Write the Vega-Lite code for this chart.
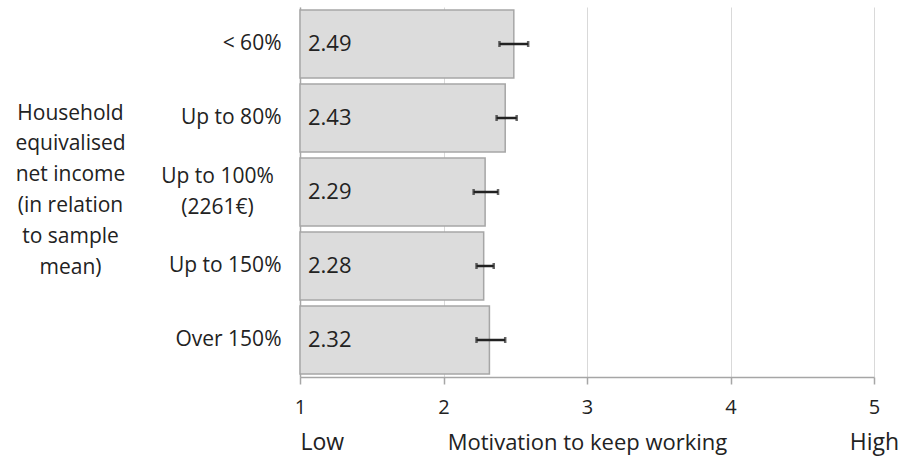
{
  "$schema": "https://vega.github.io/schema/vega-lite/v6.json",
  "width": 574,
  "height": 370,
  "autosize": {"type": "none"},
  "padding": {"left": 300, "top": 7, "right": 35, "bottom": 83},
  "config": {
    "font": "Open Sans",
    "view": {"stroke": null},
    "axis": {"titleFontWeight": "normal", "labelColor": "#222222", "titleColor": "#222222"}
  },
  "data": {
    "values": [
      {"cat": "< 60%", "mean": 2.49, "low": 2.39, "high": 2.59},
      {"cat": "Up to 80%", "mean": 2.43, "low": 2.37, "high": 2.51},
      {"cat": "Up to 100% (2261€)", "mean": 2.29, "low": 2.21, "high": 2.38},
      {"cat": "Up to 150%", "mean": 2.28, "low": 2.23, "high": 2.35},
      {"cat": "Over 150%", "mean": 2.32, "low": 2.23, "high": 2.43}
    ]
  },
  "encoding": {
    "y": {
      "field": "cat",
      "type": "nominal",
      "sort": null,
      "scale": {"paddingInner": 0.08, "paddingOuter": 0.04},
      "axis": {
        "domain": true,
        "domainColor": "#a6a6a6",
        "domainWidth": 1.5,
        "ticks": false,
        "grid": false,
        "labelPadding": {"expr": "datum.value == 'Up to 100% (2261€)' ? 83 : 19"},
        "labelAlign": {"expr": "datum.value == 'Up to 100% (2261€)' ? 'center' : 'right'"},
        "labelFontSize": 21,
        "labelLineHeight": 31,
        "labelOffset": {"expr": "datum.value == 'Up to 100% (2261€)' ? -15 : 0"},
        "labelExpr": "datum.value == 'Up to 100% (2261€)' ? ['Up to 100%', '(2261€)'] : datum.label",
        "title": ["Household", "equivalised", "net income", "(in relation", "to sample", "mean)"],
        "titleAngle": 0,
        "titleAlign": "center",
        "titleBaseline": "middle",
        "titleX": -230,
        "titleY": 106,
        "titleFontSize": 21,
        "titleLineHeight": 30.8
      }
    }
  },
  "layer": [
    {
      "mark": {"type": "bar", "fill": "#dcdcdc", "stroke": "#a6a6a6", "strokeWidth": 1.5},
      "encoding": {
        "x": {
          "field": "mean",
          "type": "quantitative",
          "scale": {"domain": [1, 5], "zero": false, "nice": false},
          "axis": {
            "values": [1, 2, 3, 4, 5],
            "grid": true,
            "gridColor": "#d9d9d9",
            "domainColor": "#a6a6a6",
            "domainWidth": 1.5,
            "tickColor": "#a6a6a6",
            "tickWidth": 1.5,
            "tickSize": 7,
            "labelFontSize": 20,
            "labelPadding": 13,
            "labelFlush": false,
            "title": null
          }
        },
        "x2": {"datum": 1}
      }
    },
    {
      "mark": {
        "type": "errorbar",
        "rule": {"strokeWidth": 2.5, "color": "#222222"},
        "ticks": {"size": 6, "thickness": 2.5, "color": "#222222"}
      },
      "encoding": {
        "x": {"field": "low", "type": "quantitative", "axis": null},
        "x2": {"field": "high"}
      }
    },
    {
      "mark": {"type": "text", "align": "left", "baseline": "middle", "dx": 8, "fontSize": 22, "color": "#222222"},
      "encoding": {
        "x": {
          "datum": 1,
          "type": "quantitative",
          "axis": {
            "orient": "bottom",
            "values": [1, 5],
            "domain": false,
            "ticks": false,
            "grid": false,
            "labelExpr": "datum.value == 1 ? 'Low' : 'High'",
            "labelAlign": {"expr": "datum.value == 1 ? 'left' : 'center'"},
            "labelBaseline": "alphabetic",
            "labelPadding": 72,
            "labelFontSize": 23,
            "labelFlush": false,
            "title": "Motivation to keep working",
            "titleFontSize": 22,
            "titleX": 287,
            "titleY": 72,
            "titleBaseline": "alphabetic",
            "titleAlign": "center"
          }
        },
        "text": {"field": "mean", "type": "quantitative", "format": ".2f"}
      }
    }
  ],
  "resolve": {"axis": {"x": "independent"}}
}
